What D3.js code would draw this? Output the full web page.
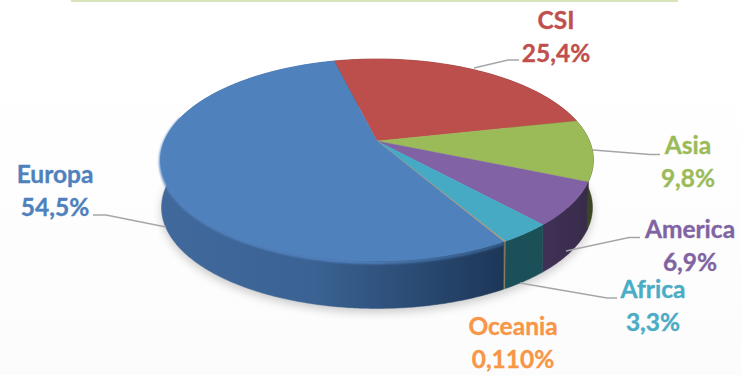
<!DOCTYPE html>
<html>
<head>
<meta charset="utf-8">
<script src="https://cdn.jsdelivr.net/npm/d3@7"></script>
<style>
    html, body { margin: 0; padding: 0; background: #fff; }
    svg { display: block; }
    text { font-family: Lato, "Open Sans", sans-serif; font-weight: 700; stroke-width: 0.35; }
</style>
</head>
<body>
<svg class="pie-svg"></svg>
<script>
// data, same order as the slices run clockwise from the red one
const regions = ["CSI", "Asia", "America", "Africa", "Oceania", "Europa"];
const shares = [25.4, 9.8, 6.9, 3.3, 0.11, 54.5];
const shareLabels = ["25,4%", "9,8%", "6,9%", "3,3%", "0,110%", "54,5%"];

// colours per region: top face, wall left, wall right
const topColors = ["#bc4f4b", "#9bbb59", "#8062a5", "#46aac5", "#b09a78", "#4f81bd"];
const wallLeft = ["#6e2f2d", "#5a6e34", "#3f3055", "#1c5058", "#8a7a60", "#41699c"];
const wallRight = ["#6e2f2d", "#333d1d", "#352a45", "#1a4a52", "#8a7a60", "#1c3657"];

const size = {width: 741, height: 375};

// layout of the labels and leader lines
const labelLayout = {
    "CSI": {x: 556, y: 29, fill: "#c0504d", leader: [[474, 68], [508, 60], [519, 60]]},
    "Asia": {x: 688, y: 154, fill: "#9bbb59", leader: [[593, 150], [650, 154.5], [660, 154.5]]},
    "America": {x: 690, y: 238, fill: "#8064a2", leader: [[566, 251], [629, 237.5], [640, 237.5]]},
    "Africa": {x: 653, y: 298, fill: "#4bacc6", leader: [[520, 283], [607, 298], [617, 298]]},
    "Oceania": {x: 513, y: 335, fill: "#f79646", leader: null},
    "Europa": {x: 55, y: 183, fill: "#4f81bd", leader: [[166, 227], [106, 215], [93, 215]]}
};
const lineGap = 33;

// disc -> screen, a circle seen in perspective so the centre sits above the ellipse middle
const cx = 377, cy = 141;
const rxBase = 212.5, ryBase = 97.4, persp = 0.188;
const wallDepth = 47.5, wallShrink = 0.996;

function project(angle, radius) {
    const u = Math.sin(angle) * radius;
    const v = -Math.cos(angle) * radius;
    const w = 1 - persp * v;
    return [cx + rxBase * u / w, cy + ryBase * v / w];
}
function projectBottom(angle) {
    const p = project(angle, 1);
    return [cx + (p[0] - cx) * wallShrink, p[1] + wallDepth];
}

let svg = d3.select(".pie-svg")
    .attr("width", size.width)
    .attr("height", size.height);

let defs = svg.append("defs");

const bg = defs.append("linearGradient").attr("id", "bg")
    .attr("x1", 0).attr("x2", 0).attr("y1", 0).attr("y2", 1);
bg.append("stop").attr("offset", 0).attr("stop-color", "#ffffff");
bg.append("stop").attr("offset", 1).attr("stop-color", "#fcfcfc");

defs.append("filter").attr("id", "soft").attr("x", "-20%").attr("y", "-20%")
    .attr("width", "140%").attr("height", "140%")
    .append("feGaussianBlur").attr("stdDeviation", 5);
defs.append("filter").attr("id", "bevelBlur")
    .attr("x", "-10%").attr("y", "-10%").attr("width", "120%").attr("height", "120%")
    .append("feGaussianBlur").attr("stdDeviation", 1);

const bevelGrad = defs.append("linearGradient").attr("id", "bevelGrad")
    .attr("gradientUnits", "userSpaceOnUse")
    .attr("x1", 160).attr("x2", 505).attr("y1", 0).attr("y2", 0);
bevelGrad.append("stop").attr("offset", 0).attr("stop-color", "#5486c4");
bevelGrad.append("stop").attr("offset", 0.55).attr("stop-color", "#5486c4");
bevelGrad.append("stop").attr("offset", 1).attr("stop-color", "#37618f");

// wall gradients in screen coords
regions.forEach((r, i) => {
    const g = defs.append("linearGradient").attr("id", "wall" + i)
        .attr("gradientUnits", "userSpaceOnUse")
        .attr("x1", r === "Europa" ? 160 : 500).attr("x2", r === "Europa" ? 505 : 600)
        .attr("y1", 0).attr("y2", 0);
    g.append("stop").attr("offset", 0).attr("stop-color", wallLeft[i]);
    g.append("stop").attr("offset", r === "Europa" ? 0.45 : 0.5).attr("stop-color", r === "Europa" ? "#3a6293" : wallLeft[i]);
    g.append("stop").attr("offset", 1).attr("stop-color", wallRight[i]);
});

svg.append("rect").attr("width", size.width).attr("height", size.height).attr("fill", "#fff");
svg.append("rect").attr("y", 45).attr("width", size.width).attr("height", size.height - 45).attr("fill", "url(#bg)");
svg.append("rect").attr("x", 71).attr("y", 0).attr("width", 607).attr("height", 2).attr("fill", "#d8e4bc");

const pie = d3.pie().sort(null)
    .startAngle(-13.8 * Math.PI / 180)
    .endAngle((360 - 13.8) * Math.PI / 180);
const arcs = pie(shares);

const line = d3.line();
const stepAngle = 0.01;

function rimAngles(a0, a1) {
    const n = Math.max(2, Math.ceil((a1 - a0) / stepAngle));
    return d3.range(n + 1).map(k => a0 + (a1 - a0) * k / n);
}

const fullRim = rimAngles(0, Math.PI * 2);

// shadow under the pie
svg.append("path")
    .attr("d", line(fullRim.map(a => { const p = projectBottom(a); return [p[0], p[1] + 4]; })) + "Z")
    .attr("fill", "#000")
    .attr("opacity", 0.2)
    .attr("filter", "url(#soft)");

// walls
let walls = svg.append("g").attr("class", "walls");
walls.selectAll("path")
    .data(arcs)
    .join("path")
    .attr("d", d => {
        const as = rimAngles(d.startAngle, d.endAngle);
        return line(as.map(a => project(a, 1)).concat(as.slice().reverse().map(projectBottom))) + "Z";
    })
    .attr("fill", (d, i) => "url(#wall" + i + ")")
    .attr("stroke", (d, i) => "url(#wall" + i + ")")
    .attr("stroke-width", 0.5);

// lighter bevel under the rim, front and left of the big slice only
const europa = arcs[regions.indexOf("Europa")];
svg.append("path")
    .attr("d", line(rimAngles(europa.startAngle, 285 * Math.PI / 180).map(a => {
        const p = project(a, 1);
        return [p[0], p[1] + 1.5];
    })))
    .attr("fill", "none")
    .attr("stroke", "url(#bevelGrad)")
    .attr("stroke-width", 3)
    .attr("filter", "url(#bevelBlur)");

// top face
let faces = svg.append("g").attr("class", "faces");
faces.selectAll("path")
    .data(arcs)
    .join("path")
    .attr("d", d => line([[cx, cy]].concat(rimAngles(d.startAngle, d.endAngle).map(a => project(a, 1)))) + "Z")
    .attr("fill", (d, i) => topColors[i])
    .attr("stroke", (d, i) => topColors[i])
    .attr("stroke-width", (d, i) => regions[i] === "Oceania" ? 0.6 : 0.3)
    .attr("stroke-linejoin", "round");

// leader lines
svg.append("g").selectAll("path")
    .data(regions.filter(r => labelLayout[r].leader))
    .join("path")
    .attr("d", r => line(labelLayout[r].leader))
    .attr("fill", "none")
    .attr("stroke", "#a6a6a6")
    .attr("stroke-width", 1.3);

// labels
let labels = svg.append("g").selectAll("g")
    .data(regions)
    .join("g")
    .attr("fill", r => labelLayout[r].fill)
    .attr("stroke", r => labelLayout[r].fill)
    .attr("text-anchor", "middle")
    .attr("font-size", 24.5);
labels.append("text")
    .attr("x", r => labelLayout[r].x)
    .attr("y", r => labelLayout[r].y)
    .text(r => r);
labels.append("text")
    .attr("x", r => labelLayout[r].x)
    .attr("y", r => labelLayout[r].y + lineGap)
    .text((r, i) => shareLabels[i]);
</script>
</body>
</html>
